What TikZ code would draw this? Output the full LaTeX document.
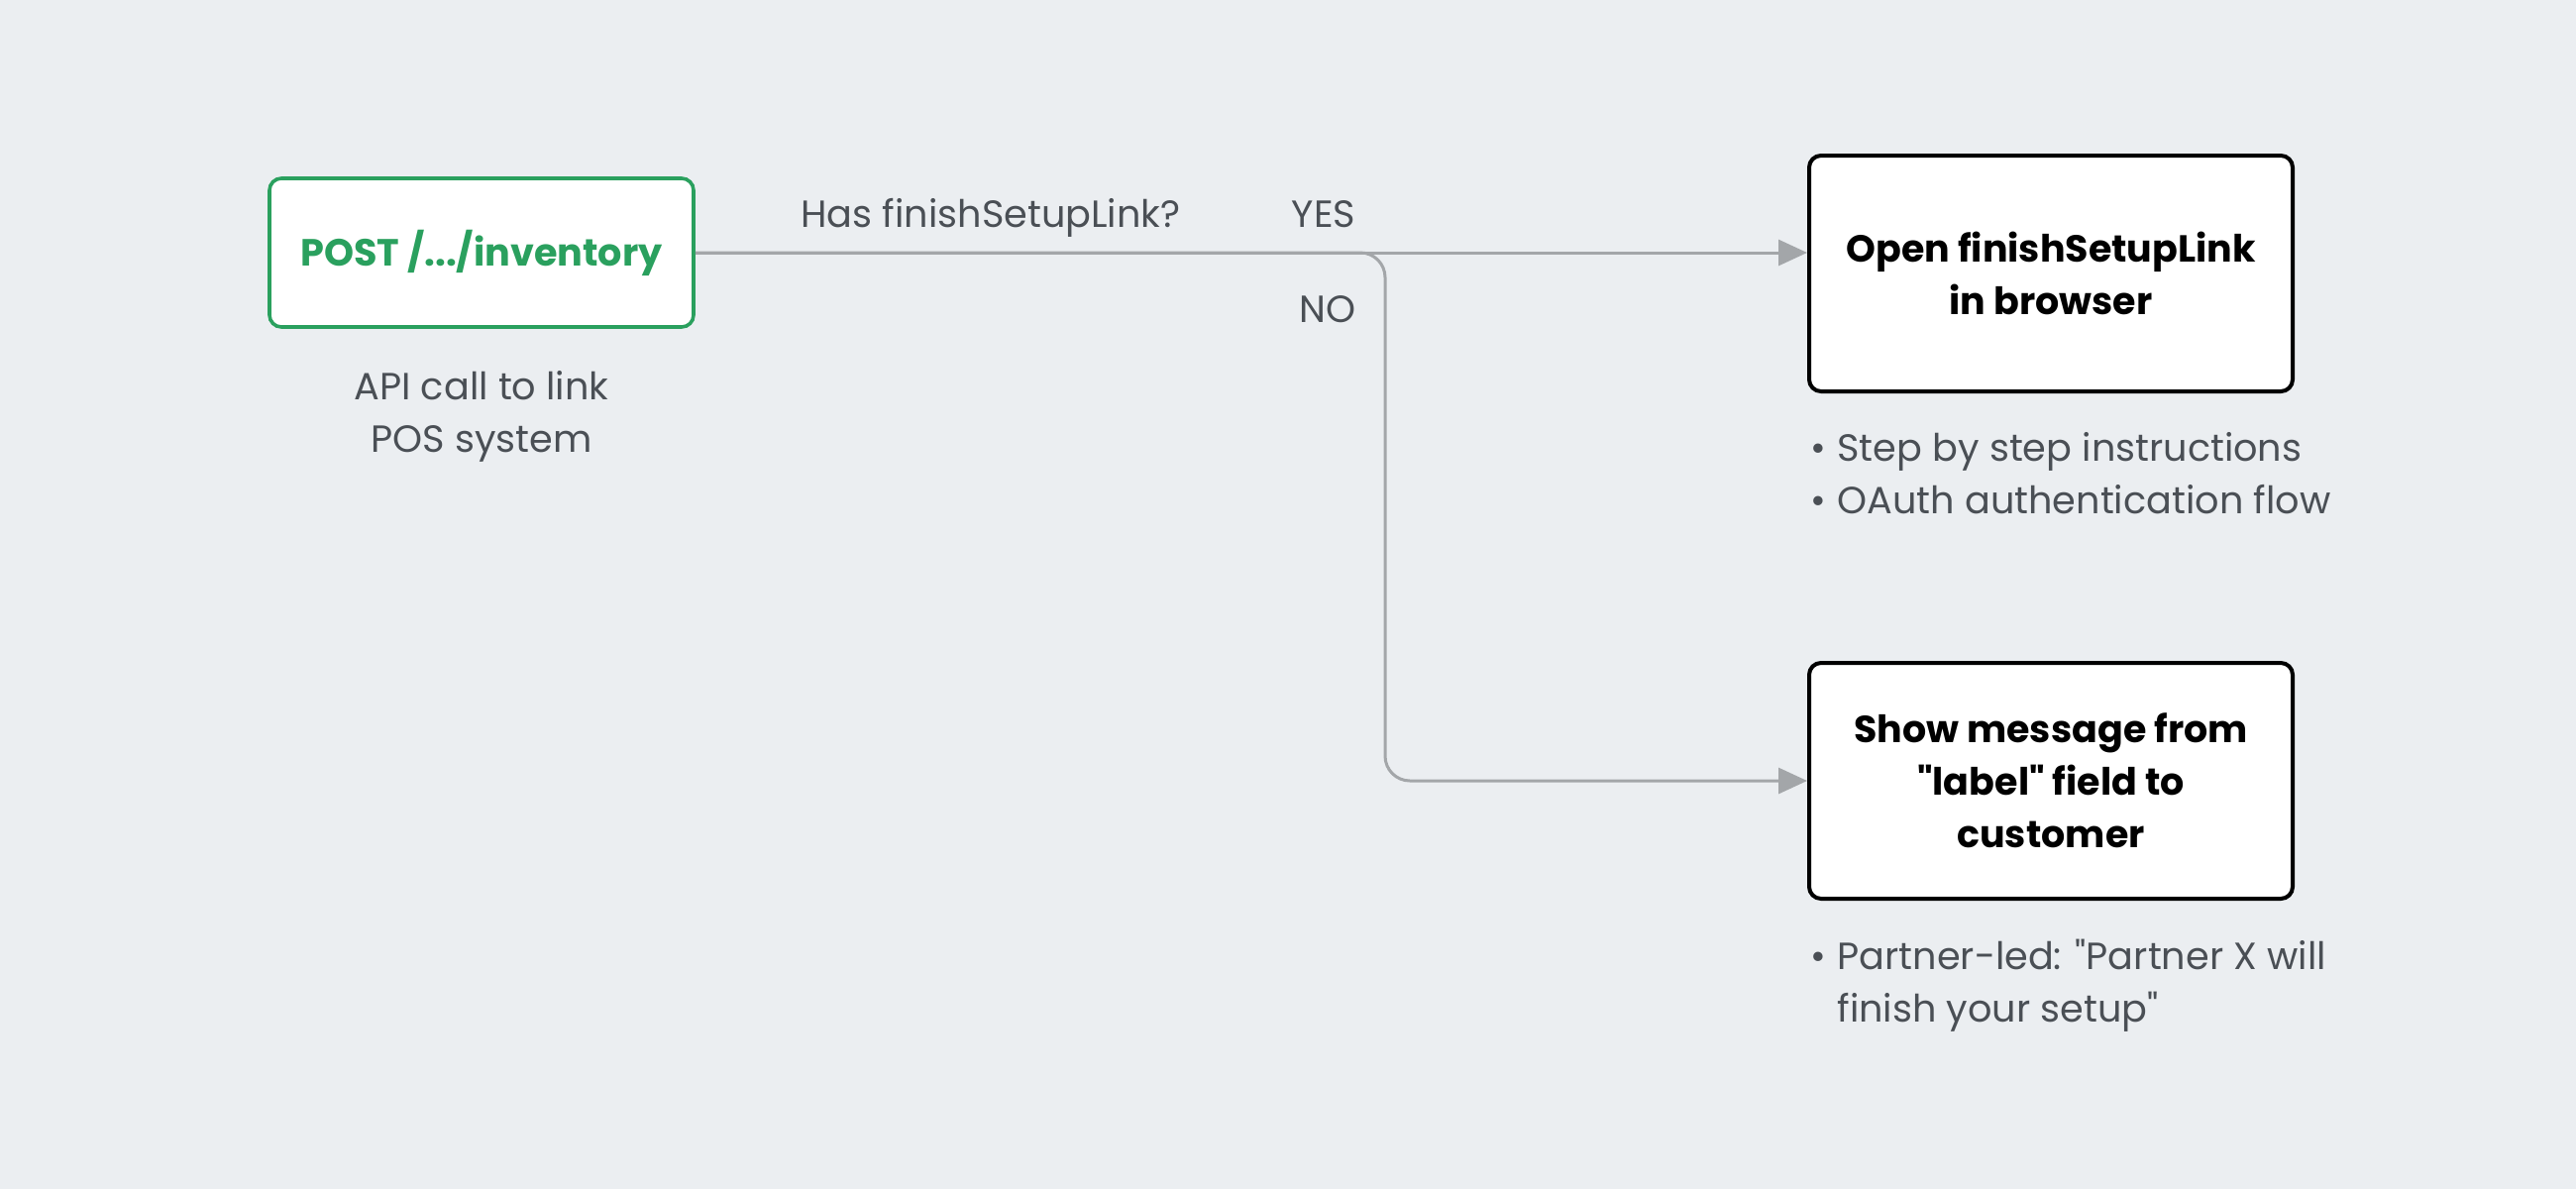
\documentclass[tikz,border=0pt]{standalone}
\usepackage{fontspec}
\setmainfont{Poppins}[Ligatures=TeXOff]
\usetikzlibrary{arrows.meta}
\definecolor{bg}{HTML}{EBEEF1}
\definecolor{okgreen}{HTML}{2AA05E}
\definecolor{txtgray}{HTML}{4A4F55}
\definecolor{linegray}{HTML}{A3A6A9}
\tikzset{
  startbox/.style={draw=okgreen, line width=1.8pt, fill=white, rounded corners=6pt,
    minimum width=214pt, minimum height=75pt, inner sep=0pt, text=okgreen,
    font=\fontsize{19.1}{24}\selectfont\bfseries},
  stepbox/.style={draw=black, line width=2pt, fill=white, rounded corners=6pt,
    minimum width=244pt, minimum height=119pt, inner sep=0pt, align=center,
    font=\fontsize{19}{26.5}\selectfont\bfseries},
  note/.style={text=txtgray, font=\fontsize{19.1}{26.5}\selectfont, inner sep=0pt},
  flow/.style={draw=linegray, line width=1.5pt},
  tip/.style={-{Triangle[length=14.5pt,width=13pt]}}
}
\begin{document}
\begin{tikzpicture}[x=0.5pt,y=-0.5pt]
\fill[bg] (0,0) rectangle (2600,1200);
\useasboundingbox (0,0) rectangle (2600,1200);

\node[startbox] (post) at (486,255) {POST /.../inventory};
\node[stepbox] (open) at (2070,276) {Open finishSetupLink\\in browser};
\node[stepbox] (show) at (2070,788) {Show message from\\"label" field to\\customer};

\node[note, align=center, anchor=base] (api) at (486,456) {API call to link\\POS system};
\node[note, anchor=base] (has) at (1000,229) {Has finishSetupLink?};
\node[note, anchor=base] (yes) at (1336,229) {YES};
\node[note, anchor=base] (no) at (1340,325) {NO};

\node[note, anchor=base west] (b1) at (1827,465) {\begin{tabular}[t]{@{}l@{\hspace{5.7pt}}l@{}}•&Step by step instructions\\•&OAuth authentication flow\end{tabular}};
\node[note, anchor=base west] (b2) at (1827,978) {\begin{tabular}[t]{@{}l@{\hspace{5.7pt}}l@{}}•&Partner-led: "Partner X will\\&finish your setup"\end{tabular}};

\coordinate (split) at (1398,255);
\draw[flow, tip] (post.east) -- (open.west |- post.east);
\draw[flow, tip, rounded corners=12.5pt] (post.east) -- (split) -- (split |- show.west) -- (show.west);
\end{tikzpicture}
\end{document}
